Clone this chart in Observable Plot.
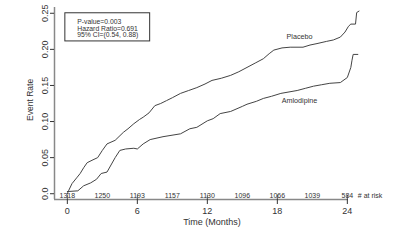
<!DOCTYPE html>
<html><head><meta charset="utf-8">
<script src="https://cdn.jsdelivr.net/npm/d3@7"></script>
<script src="https://cdn.jsdelivr.net/npm/@observablehq/plot@0.6"></script>
<style>
html,body{margin:0;padding:0;background:#fff;}
#chart svg{font-family:"Liberation Sans",Arial,sans-serif;}
</style>
</head><body><div id="chart"></div>
<script>
// months, event rate
const placeboMonths = [0,0.1,0.4,0.8,1.1,1.4,1.7,2.2,2.6,3.0,3.4,4.1,4.8,5.2,5.7,6.2,6.5,7.0,7.5,8.0,8.5,9.0,9.7,10.4,11.1,11.8,12.4,13.2,14.0,14.7,15.4,16.1,16.8,17.3,17.7,18.4,19.1,20.2,20.8,21.4,22.2,22.8,23.4,23.8,24.1,24.3,24.7,24.8,25.0];
const placeboRates  = [0,0.004,0.014,0.022,0.028,0.036,0.043,0.047,0.050,0.060,0.069,0.074,0.085,0.090,0.097,0.103,0.106,0.112,0.122,0.125,0.129,0.133,0.139,0.143,0.147,0.152,0.157,0.160,0.164,0.169,0.175,0.181,0.187,0.194,0.199,0.202,0.203,0.203,0.206,0.208,0.211,0.213,0.217,0.224,0.232,0.235,0.235,0.251,0.253];
const amloMonths = [0,0.9,1.4,2.0,2.5,2.9,3.4,4.1,4.5,5.0,5.7,6.0,6.5,7.1,8.2,9.7,10.5,11.1,12.0,12.5,13.1,14.0,15.0,15.4,16.2,16.8,17.5,18.3,19.0,19.7,20.4,21.1,21.8,22.5,23.4,24.0,24.3,24.4,24.5,24.9];
const amloRates  = [0.003,0.004,0.011,0.015,0.020,0.028,0.030,0.050,0.060,0.062,0.063,0.062,0.069,0.075,0.079,0.083,0.090,0.092,0.101,0.104,0.111,0.114,0.121,0.124,0.128,0.132,0.135,0.139,0.141,0.143,0.146,0.149,0.151,0.153,0.154,0.161,0.175,0.185,0.193,0.193];
const riskMonths = [0,3,6,9,12,15,18,21,24];
const riskCounts = [1318,1250,1193,1157,1130,1096,1066,1039,584];
const xTicks = [0,6,12,18,24];
const yTicks = [0,0.05,0.10,0.15,0.20,0.25];
const statLines = ["P-value=0.003","Hazard Ratio=0.691","95% CI=(0.54, 0.88)"];
const seriesLabels = ["Placebo","Amlodipine"];

const placebo = placeboMonths.map((m,i)=>({m, r: placeboRates[i]}));
const amlo = amloMonths.map((m,i)=>({m, r: amloRates[i]}));
const risk = riskMonths.map((m,i)=>({m, n: riskCounts[i]}));
const stats = statLines.map((t,i)=>({t, i}));

const ink = "#333";
const axisCol = "#888";
const X0 = -1.1, X1 = 24.1, Y0 = -0.008, Y1 = 0.258;

const chart = Plot.plot({
  width: 400, height: 252,
  marginLeft: 54, marginRight: 52, marginTop: 7, marginBottom: 53,
  x: {domain: [X0, X1]},
  y: {domain: [Y0, Y1]},
  style: {fontFamily: '"Liberation Sans", Arial, sans-serif', color: ink, background: "#fff"},
  marks: [
    Plot.ruleY([Y0], {x1: X0, x2: X1, stroke: axisCol, strokeWidth: 1.5}),
    Plot.ruleX([X0], {y1: Y0, y2: Y1, stroke: axisCol, strokeWidth: 1.5}),
    Plot.axisX({ticks: xTicks, tickSize: 5, tickPadding: 3, fontSize: 9, label: null, stroke: ink}),
    Plot.ruleX(xTicks, {y1: Y0, y2: -0.002, stroke: ink, strokeWidth: 0.8}),
    Plot.axisY({ticks: yTicks, tickSize: 4, tickPadding: 3, tickRotate: -90, fontSize: 9, label: null,
      tickFormat: d => d === 0 ? "0.0" : d3.format(".2f")(d), stroke: ink}),
    Plot.text(["Event Rate"], {x: X0, y: 0.13, dx: -24, rotate: -90, fontSize: 8.5, fill: ink}),
    Plot.text(["Time (Months)"], {x: 12.4, frameAnchor: "bottom", dy: 25, fontSize: 9, fill: ink}),
    Plot.text(risk, {x: "m", y: Y0, text: d => String(d.n), dy: -4, fontSize: 7, fill: ink}),
    Plot.text(["# at risk"], {x: 24.9, y: Y0, dy: -4, textAnchor: "start", fontSize: 7, fill: ink}),
    Plot.rect([0], {x1: -0.17, x2: 7.1, y1: 0.211, y2: 0.25, stroke: ink, strokeWidth: 1, fill: "none"}),
    Plot.text(stats, {x: 0.85, y: d => 0.2375 - d.i*0.0088, text: "t", textAnchor: "start", fontSize: 6.8, fill: ink}),
    Plot.line(placebo, {x: "m", y: "r", stroke: "#444", strokeWidth: 1}),
    Plot.line(amlo, {x: "m", y: "r", stroke: "#444", strokeWidth: 1}),
    Plot.text([seriesLabels[0]], {x: 19.9, y: 0.218, fontSize: 7.2, fill: ink}),
    Plot.text([seriesLabels[1]], {x: 19.9, y: 0.129, fontSize: 7.2, fill: ink})
  ]
});
document.getElementById("chart").appendChild(chart);
</script>
</body></html>
